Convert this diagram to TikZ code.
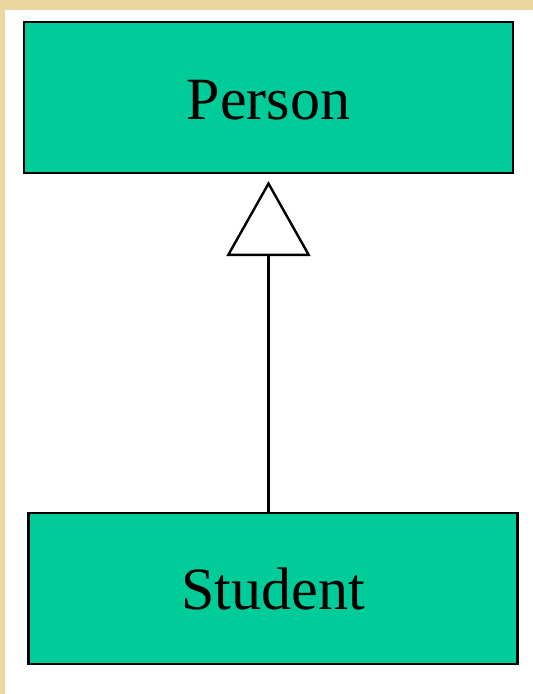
\documentclass[tikz,border=0pt]{standalone}
\usepackage{fontspec}
\setmainfont{Liberation Serif}
\usepackage{tikz}
\usetikzlibrary{positioning, calc, arrows.meta}
\definecolor{umlgreen}{RGB}{0,204,153}
\definecolor{slidebeige}{RGB}{236,214,160}
\tikzset{
  classbox/.style={draw=black, line width=2.2pt, fill=umlgreen,
    minimum width=489pt, minimum height=151pt, inner sep=0pt,
    font=\fontsize{60}{72}\selectfont},
  inherits/.style={line width=3pt,
    -{Triangle[open, length=75pt, width=84pt, line width=2.4pt]},
    shorten >=7pt}
}

\begin{document}
\begin{tikzpicture}[x=1pt, y=1pt]
    \useasboundingbox (0,0) rectangle (533,694);
    \fill[white] (0,0) rectangle (533,694);
    % slide border
    \fill[slidebeige] (0,0) rectangle (5,694);
    \fill[slidebeige] (0,684) rectangle (533,694);

    \node[classbox, text height=45pt, text depth=0pt] (person) at (268.5,596.5) {Person};
    \node[classbox] (student) at (273,105.5) {Student};

    \draw[inherits] (student.north -| person.south) -- (person.south);
  \end{tikzpicture}
\end{document}
